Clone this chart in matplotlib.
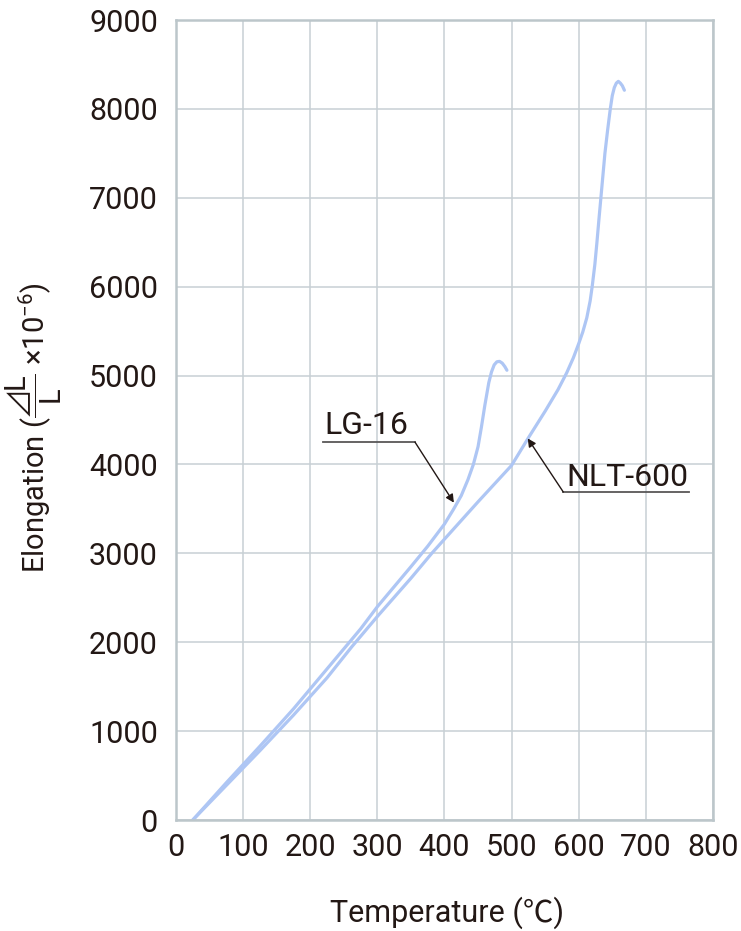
import matplotlib
matplotlib.use("Agg")
import matplotlib.pyplot as plt

plt.rcParams['font.family'] = ['Roboto', 'Noto Sans CJK JP', 'DejaVu Sans']
plt.rcParams['mathtext.fontset'] = 'custom'
plt.rcParams['mathtext.rm'] = 'Roboto'
plt.rcParams['mathtext.it'] = 'Roboto'

# LG-16 thermal expansion curve (temperature degC, elongation x1e-6)
lg_temp = [25, 75, 125, 175, 225, 275, 300, 350, 375, 400, 413, 425, 435,
           443, 450, 455, 460, 466, 470, 474, 478, 482, 486, 490, 493]
lg_elong = [0, 420, 830, 1250, 1700, 2150, 2400, 2850, 3080, 3330, 3490, 3650,
            3830, 4000, 4200, 4420, 4660, 4920, 5040, 5120, 5155, 5160, 5140,
            5100, 5060]

# NLT-600 thermal expansion curve
nlt_temp = [25, 75, 125, 175, 225, 262, 300, 350, 381, 400, 450, 500, 525,
            550, 569, 582, 592, 600, 606, 612, 617, 620, 624, 627, 630, 633,
            636, 639, 643, 647, 650, 653, 656, 659, 662, 665, 668]
nlt_elong = [0, 390, 780, 1180, 1600, 1950, 2290, 2720, 3000, 3160, 3580,
             3990, 4300, 4600, 4840, 5030, 5200, 5360, 5490, 5650, 5840, 6000,
             6250, 6490, 6750, 7000, 7250, 7500, 7760, 8000, 8150, 8240, 8290,
             8310, 8290, 8260, 8210]

x_ticks = [0, 100, 200, 300, 400, 500, 600, 700, 800]
y_ticks = [0, 1000, 2000, 3000, 4000, 5000, 6000, 7000, 8000, 9000]

line_color = '#aec6f4'
grid_color = '#c8d0d4'
text_color = '#231815'

fig = plt.figure(figsize=(7.41, 9.31), dpi=100)
ax = fig.add_axes([0.2375, 0.1192, 0.7247, 0.8593])

ax.plot(lg_temp, lg_elong, color=line_color, lw=2.3, solid_capstyle='round',
        solid_joinstyle='round')
ax.plot(nlt_temp, nlt_elong, color=line_color, lw=2.3, solid_capstyle='round',
        solid_joinstyle='round')

ax.set_xlim(0, 800)
ax.set_ylim(0, 9000)
ax.set_xticks(x_ticks)
ax.set_yticks(y_ticks)
ax.grid(True, color=grid_color, lw=1.1)
ax.set_axisbelow(True)
for s in ax.spines.values():
    s.set_color('#bcc6ca')
    s.set_linewidth(1.8)
ax.tick_params(length=0, labelsize=22, colors=text_color, pad=13)
ax.tick_params(axis='x', pad=9)

ax.set_xlabel('Temperature (℃)', fontsize=22, color=text_color)
ax.xaxis.set_label_coords(0.505, -0.096)
ax.set_ylabel(r'Elongation ($\dfrac{⊿\mathrm{L}}{\mathrm{L}}$ ×10$^{\mathrm{-6}}$)',
              fontsize=21, color=text_color)
ax.yaxis.set_label_coords(-0.208, 0.49)

# LG-16 label
ax.text(284, 4440, 'LG-16', fontsize=23, color=text_color, ha='center', va='center')
ax.plot([219, 356], [4252, 4252], color='#595757', lw=1.3)
ax.annotate('', xy=(414, 3570), xytext=(356, 4252),
            arrowprops=dict(arrowstyle='-|>', color=text_color, lw=1.0,
                            mutation_scale=12, shrinkA=0, shrinkB=0))

# NLT-600 label
ax.text(673, 3856, 'NLT-600', fontsize=23, color=text_color, ha='center', va='center')
ax.plot([577, 765], [3690, 3690], color='#595757', lw=1.3)
ax.annotate('', xy=(524, 4293), xytext=(577, 3690),
            arrowprops=dict(arrowstyle='-|>', color=text_color, lw=1.0,
                            mutation_scale=12, shrinkA=0, shrinkB=0))

fig.savefig('out.png', dpi=100)
